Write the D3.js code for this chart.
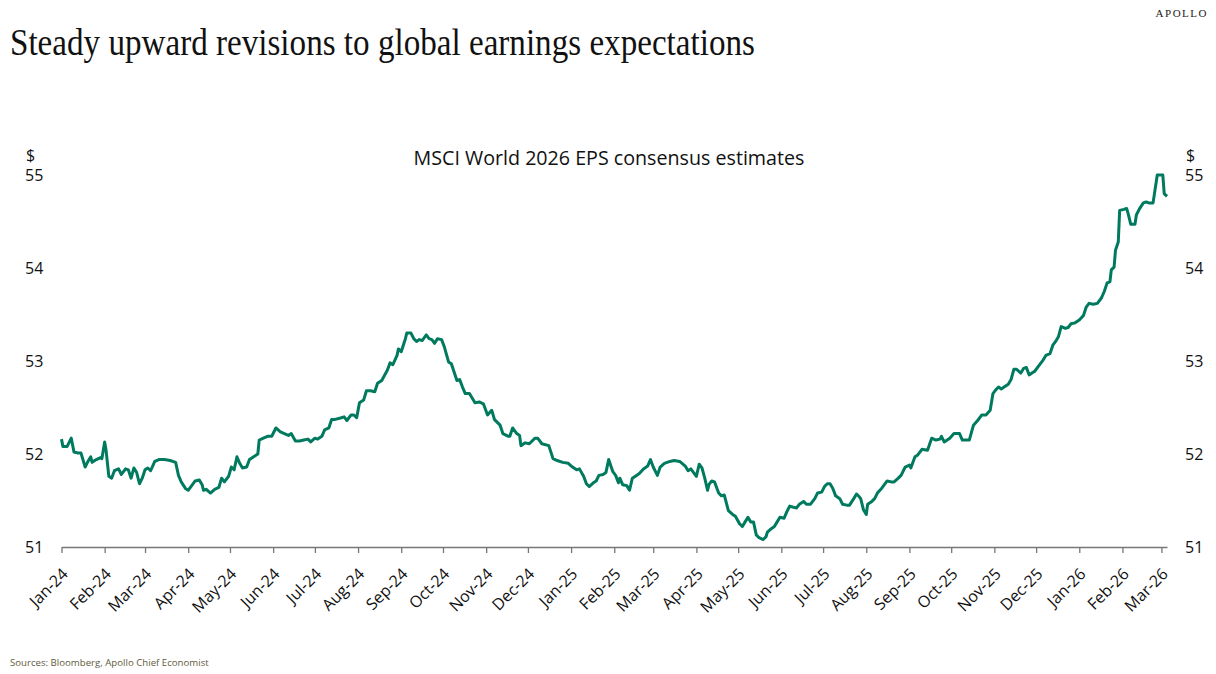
<!DOCTYPE html>
<html>
<head>
<meta charset="utf-8">
<script src="https://cdn.jsdelivr.net/npm/d3@7"></script>
<style>
  html, body { margin: 0; padding: 0; background: #fff; }
  svg { display: block; }
</style>
</head>
<body>
<div id="chart"></div>
<script>
// MSCI World 2026 EPS consensus estimates
const dates = [
  "2024-01-01","2024-01-02","2024-01-05","2024-01-08","2024-01-10","2024-01-13","2024-01-15","2024-01-18","2024-01-20","2024-01-22","2024-01-23","2024-01-26","2024-01-29","2024-01-30",
  "2024-02-01","2024-02-02","2024-02-04","2024-02-06","2024-02-08","2024-02-11","2024-02-13","2024-02-16","2024-02-18","2024-02-20","2024-02-22","2024-02-24","2024-02-26","2024-02-28",
  "2024-03-01","2024-03-03","2024-03-05","2024-03-08","2024-03-11","2024-03-13","2024-03-15","2024-03-19","2024-03-23","2024-03-25","2024-03-27","2024-03-30",
  "2024-04-01","2024-04-03","2024-04-06","2024-04-09","2024-04-11","2024-04-12","2024-04-14","2024-04-17","2024-04-20","2024-04-23","2024-04-25","2024-04-27","2024-04-30",
  "2024-05-02","2024-05-04","2024-05-06","2024-05-08","2024-05-10","2024-05-13","2024-05-15","2024-05-18","2024-05-21","2024-05-22","2024-05-25","2024-05-28","2024-05-31",
  "2024-06-01","2024-06-03","2024-06-06","2024-06-09","2024-06-12","2024-06-14","2024-06-17","2024-06-20","2024-06-23","2024-06-26","2024-06-28",
  "2024-07-01","2024-07-03","2024-07-06","2024-07-08","2024-07-11","2024-07-13","2024-07-15","2024-07-20","2024-07-22","2024-07-24","2024-07-27","2024-07-29","2024-07-31",
  "2024-08-02","2024-08-05","2024-08-07","2024-08-10","2024-08-13","2024-08-15","2024-08-18","2024-08-22","2024-08-24","2024-08-26","2024-08-29","2024-08-30",
  "2024-09-01","2024-09-04","2024-09-05","2024-09-08","2024-09-10","2024-09-12","2024-09-14","2024-09-16","2024-09-19","2024-09-21","2024-09-23","2024-09-25","2024-09-27","2024-09-30",
  "2024-10-02","2024-10-05","2024-10-07","2024-10-11","2024-10-13","2024-10-15","2024-10-17","2024-10-20","2024-10-24","2024-10-27","2024-10-30",
  "2024-11-02","2024-11-05","2024-11-07","2024-11-11","2024-11-13","2024-11-17","2024-11-18","2024-11-20","2024-11-23","2024-11-25","2024-11-26","2024-11-29",
  "2024-12-02","2024-12-06","2024-12-08","2024-12-11","2024-12-16","2024-12-19","2024-12-22","2024-12-26","2024-12-30",
  "2025-01-02","2025-01-05","2025-01-07","2025-01-10","2025-01-12","2025-01-14","2025-01-17","2025-01-19","2025-01-21","2025-01-24","2025-01-26","2025-01-28","2025-01-31",
  "2025-02-02","2025-02-04","2025-02-05","2025-02-07","2025-02-10","2025-02-12","2025-02-14","2025-02-17","2025-02-19","2025-02-22","2025-02-25","2025-02-27",
  "2025-03-01","2025-03-04","2025-03-06","2025-03-09","2025-03-13","2025-03-16","2025-03-20","2025-03-24","2025-03-26","2025-03-28","2025-03-30",
  "2025-04-01","2025-04-03","2025-04-05","2025-04-07","2025-04-09","2025-04-10","2025-04-12","2025-04-14","2025-04-17","2025-04-19","2025-04-21","2025-04-24","2025-04-27","2025-04-29",
  "2025-05-02","2025-05-04","2025-05-06","2025-05-08","2025-05-10","2025-05-12","2025-05-14","2025-05-16","2025-05-19","2025-05-21","2025-05-22","2025-05-25","2025-05-27","2025-05-29","2025-05-31",
  "2025-06-03","2025-06-05","2025-06-07","2025-06-09","2025-06-12","2025-06-14","2025-06-17","2025-06-19","2025-06-22","2025-06-25","2025-06-27","2025-06-30",
  "2025-07-02","2025-07-04","2025-07-06","2025-07-08","2025-07-10","2025-07-13","2025-07-15","2025-07-18","2025-07-20","2025-07-23","2025-07-25","2025-07-27","2025-07-28","2025-07-30",
  "2025-08-01","2025-08-02","2025-08-05","2025-08-07","2025-08-09","2025-08-12","2025-08-16","2025-08-19","2025-08-21","2025-08-24","2025-08-26","2025-08-29",
  "2025-09-01","2025-09-02","2025-09-05","2025-09-07","2025-09-10","2025-09-14","2025-09-17","2025-09-20","2025-09-23","2025-09-24","2025-09-26","2025-09-30",
  "2025-10-03","2025-10-07","2025-10-09","2025-10-14","2025-10-17","2025-10-20","2025-10-23","2025-10-26","2025-10-29","2025-10-31",
  "2025-11-02","2025-11-04","2025-11-06","2025-11-08","2025-11-11","2025-11-13","2025-11-15","2025-11-17","2025-11-20","2025-11-22","2025-11-24","2025-11-26","2025-11-28","2025-11-30",
  "2025-12-03","2025-12-06","2025-12-08","2025-12-11","2025-12-13","2025-12-15","2025-12-17","2025-12-19","2025-12-22","2025-12-24","2025-12-26","2025-12-29",
  "2026-01-01","2026-01-04","2026-01-06","2026-01-08","2026-01-11","2026-01-14","2026-01-17","2026-01-19","2026-01-21","2026-01-23","2026-01-24","2026-01-26","2026-01-27","2026-01-29","2026-01-30",
  "2026-02-02","2026-02-04","2026-02-05","2026-02-07","2026-02-10","2026-02-11","2026-02-13","2026-02-16","2026-02-18","2026-02-20","2026-02-23","2026-02-26",
  "2026-03-02","2026-03-03","2026-03-05"
];

const eps = [
  52.16,52.08,52.08,52.17,52.02,52.01,52.01,51.86,51.92,51.97,51.91,51.94,51.96,51.95,
  52.13,52.04,51.76,51.74,51.82,51.84,51.78,51.84,51.83,51.74,51.85,51.80,51.68,51.74,
  51.83,51.85,51.82,51.92,51.94,51.94,51.94,51.93,51.91,51.77,51.70,51.63,
  51.61,51.65,51.71,51.72,51.67,51.61,51.62,51.58,51.62,51.64,51.74,51.70,51.76,
  51.86,51.83,51.97,51.90,51.85,51.86,51.94,51.97,52.00,52.15,52.17,52.19,52.19,
  52.22,52.28,52.24,52.22,52.20,52.22,52.14,52.14,52.15,52.16,52.13,
  52.17,52.16,52.19,52.26,52.28,52.37,52.37,52.39,52.40,52.36,52.42,52.42,52.39,
  52.55,52.58,52.68,52.68,52.67,52.76,52.79,52.90,52.98,52.96,53.06,53.13,
  53.10,53.24,53.30,53.30,53.24,53.21,53.23,53.22,53.28,53.24,53.23,53.19,53.24,53.23,
  53.15,52.99,52.97,52.79,52.80,52.72,52.65,52.65,52.55,52.56,52.54,
  52.42,52.47,52.37,52.31,52.22,52.19,52.19,52.28,52.22,52.20,52.09,52.12,
  52.11,52.17,52.17,52.11,52.09,51.95,51.93,51.91,51.90,
  51.86,51.83,51.84,51.76,51.68,51.65,51.69,51.71,51.77,51.78,51.80,51.94,51.81,
  51.77,51.69,51.74,51.67,51.66,51.61,51.74,51.77,51.79,51.84,51.87,51.94,
  51.86,51.77,51.86,51.90,51.92,51.93,51.92,51.87,51.82,51.84,51.80,
  51.76,51.89,51.85,51.74,51.61,51.67,51.71,51.70,51.58,51.55,51.56,51.39,51.35,51.33,
  51.25,51.22,51.27,51.32,51.27,51.27,51.13,51.10,51.08,51.11,51.16,51.20,51.22,51.27,51.32,
  51.31,51.38,51.44,51.43,51.42,51.46,51.49,51.46,51.46,51.52,51.58,51.59,
  51.65,51.68,51.68,51.63,51.55,51.52,51.46,51.45,51.45,51.52,51.57,51.54,51.52,51.40,
  51.35,51.46,51.49,51.52,51.58,51.63,51.71,51.70,51.70,51.74,51.77,51.86,
  51.88,51.85,51.97,51.99,52.05,52.04,52.17,52.15,52.16,52.19,52.13,52.17,
  52.22,52.22,52.15,52.15,52.31,52.36,52.42,52.42,52.47,52.65,
  52.69,52.72,52.70,52.72,52.75,52.80,52.91,52.91,52.87,52.92,52.93,52.85,52.87,52.89,
  52.95,53.01,53.06,53.08,53.17,53.21,53.26,53.37,53.35,53.36,53.40,53.41,
  53.44,53.49,53.58,53.62,53.61,53.62,53.68,53.75,53.84,53.85,53.98,54.01,54.19,54.28,54.62,
  54.63,54.64,54.59,54.47,54.47,54.57,54.63,54.70,54.71,54.70,54.70,55.00,
  55.00,54.80,54.77
];

const yTicks = [51, 52, 53, 54, 55];

const title = "Steady upward revisions to global earnings expectations";
const subtitle = "MSCI World 2026 EPS consensus estimates";
const source = "Sources: Bloomberg, Apollo Chief Economist";

const W = 1216, H = 674;
const plot = {left: 61.5, right: 1167, top: 175, bottom: 547};
const sans = "'Open Sans', 'Noto Sans', sans-serif";
const serif = "'Liberation Serif', 'DejaVu Serif', serif";

const parse = d3.timeParse("%Y-%m-%d");
const data = dates.map((d, i) => ({date: parse(d), value: eps[i]}));

const svg = d3.select("#chart").append("svg")
    .attr("width", W)
    .attr("height", H);

// shrink a text to a target width (fonts here differ from the original)
function fitWidth(sel, target) {
    const len = sel.node().getComputedTextLength();
    if (len > 0) {
        const fs = parseFloat(sel.attr("font-size"));
        sel.attr("font-size", fs * target / len);
    }
}

// Header - title is a tall, narrow serif, so squeeze it sideways
const titleText = svg.append("text")
    .attr("x", 0)
    .attr("y", 0)
    .attr("font-family", serif)
    .attr("font-size", 37)
    .attr("fill", "#111")
    .text(title);
const tLen = titleText.node().getComputedTextLength();
titleText.attr("transform", `translate(10,55) scale(${745 / tLen},1)`);

svg.append("text")
    .attr("x", 1208)
    .attr("y", 17)
    .attr("text-anchor", "end")
    .attr("font-family", serif)
    .attr("font-size", 11)
    .attr("letter-spacing", 1.5)
    .attr("fill", "#222")
    .text("APOLLO");

const subText = svg.append("text")
    .attr("x", 609)
    .attr("y", 165)
    .attr("text-anchor", "middle")
    .attr("font-family", sans)
    .attr("font-size", 18)
    .attr("fill", "#111")
    .text(subtitle);
fitWidth(subText, 391);

// Scales
const x = d3.scaleTime()
    .domain([parse("2024-01-01"), parse("2026-03-05")])
    .range([plot.left, plot.right]);

const y = d3.scaleLinear()
    .domain([51, 55])
    .range([plot.bottom, plot.top]);

// X axis
const months = d3.timeMonth.range(parse("2024-01-01"), parse("2026-03-02"));
const xAxis = svg.append("g")
    .attr("transform", `translate(0,${plot.bottom})`)
    .call(d3.axisBottom(x)
        .tickValues(months)
        .tickFormat(d3.timeFormat("%b-%y"))
        .tickSize(6)
        .tickSizeOuter(0));

xAxis.select(".domain").attr("stroke", "#777").attr("stroke-width", 1.3);
xAxis.selectAll(".tick line").attr("stroke", "#777").attr("stroke-width", 1.3);
xAxis.selectAll(".tick text")
    .attr("font-family", sans)
    .attr("font-size", 16)
    .attr("fill", "#111")
    .attr("text-anchor", "end")
    .attr("dy", null)
    .attr("y", 0)
    .attr("transform", "translate(7,28) rotate(-45)");

// Y axis labels, both sides
[{xPos: 25}, {xPos: 1185}].forEach(side => {
    svg.append("g")
        .selectAll("text")
        .data(yTicks)
        .join("text")
        .attr("x", side.xPos)
        .attr("y", d => y(d))
        .attr("dy", "0.35em")
        .attr("font-family", sans)
        .attr("font-size", 16)
        .attr("fill", "#111")
        .text(d => d);

    svg.append("text")
        .attr("x", side.xPos + 1)
        .attr("y", 161)
        .attr("font-family", sans)
        .attr("font-size", 16)
        .attr("fill", "#111")
        .text("$");
});

// Line
const line = d3.line()
    .x(d => x(d.date))
    .y(d => y(d.value));

svg.append("path")
    .datum(data)
    .attr("fill", "none")
    .attr("stroke", "#007a5e")
    .attr("stroke-width", 3)
    .attr("stroke-linejoin", "round")
    .attr("d", line);

// Source note
const srcText = svg.append("text")
    .attr("x", 10)
    .attr("y", 666)
    .attr("font-family", sans)
    .attr("font-size", 10)
    .attr("fill", "#5f5a3c")
    .text(source);
fitWidth(srcText, 199);
</script>
</body>
</html>
